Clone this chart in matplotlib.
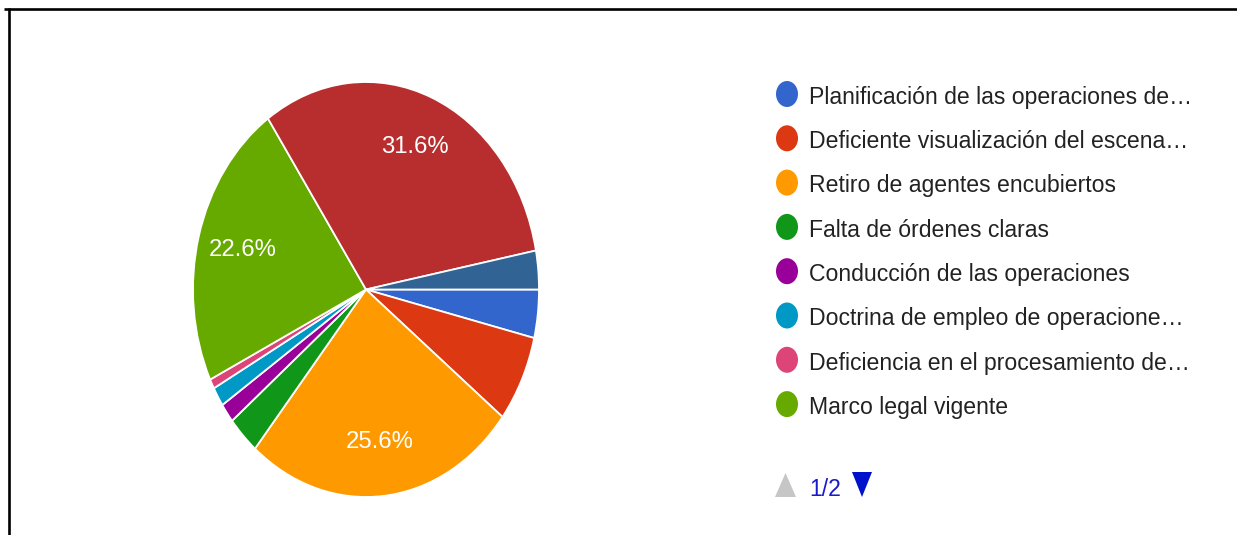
import matplotlib
matplotlib.use('Agg')
import matplotlib.pyplot as plt
from matplotlib.patches import Ellipse, Polygon
from matplotlib import font_manager

# ---- data ----
labels = ["Planificación de las operaciones de…",
          "Deficiente visualización del escena…",
          "Retiro de agentes encubiertos",
          "Falta de órdenes claras",
          "Conducción de las operaciones",
          "Doctrina de empleo de operacione…",
          "Deficiencia en el procesamiento de…",
          "Marco legal vigente"]
counts = [5, 9, 34, 4, 2, 2, 1, 30, 42, 4]
colors = ['#3366cc', '#dc3912', '#ff9900', '#109618', '#990099',
          '#0099c6', '#dd4477', '#66aa00', '#b82e2e', '#316395']
page_label = "1/2"

W, H = 1237, 535
fig = plt.figure(figsize=(W / 100, H / 100), dpi=100)
fig.patch.set_facecolor('white')

names = {f.name for f in font_manager.fontManager.ttflist}
if 'Liberation Sans Narrow' in names:
    leg_family, leg_size = 'Liberation Sans Narrow', 20.2
else:
    leg_family, leg_size = 'Liberation Sans', 16.6

# ---- pie ----
ax = fig.add_axes([193 / W, 1 - 497 / H, 346 / W, 415 / H])


def fmt(p):
    return f'{p:.1f}%' if p > 10 else ''


wedges, texts, autotexts = ax.pie(
    counts, colors=colors, startangle=0, counterclock=False,
    autopct=fmt, pctdistance=0.74,
    wedgeprops=dict(edgecolor='white', linewidth=1.3),
    textprops=dict(color='white', fontsize=17.2, family='Liberation Sans'))
ax.set_aspect('auto')
ax.set_xlim(-1, 1)
ax.set_ylim(-1, 1)

# ---- overlay (pixel coordinates) ----
ov = fig.add_axes([0, 0, 1, 1])
ov.set_xlim(0, W)
ov.set_ylim(H, 0)
ov.axis('off')
ov.patch.set_alpha(0)

ov.plot([4, W], [8.5, 8.5], color='black', lw=1.9, solid_capstyle='butt')
ov.plot([8.5, 8.5], [7.5, H], color='black', lw=1.9, solid_capstyle='butt')

y0, dy = 94, 44.3
for i, lab in enumerate(labels):
    y = y0 + dy * i
    ov.add_patch(Ellipse((787, y), 22, 26, color=colors[i], lw=0))
    ov.text(809, y + 9.8, lab, fontsize=leg_size, family=leg_family,
            color='#222222', va='baseline', ha='left')

# pagination
ov.add_patch(Polygon([(775, 497), (796, 497), (785.5, 473)], closed=True,
                     color='#c6c6c6', lw=0))
ov.text(809, 496, page_label, fontsize=leg_size, family=leg_family,
        color='#1a1acc', va='baseline', ha='left')
ov.add_patch(Polygon([(852, 472), (872, 472), (862, 497)], closed=True,
                     color='#0011cc', lw=0))

fig.savefig('out.png', dpi=100, facecolor='white')
